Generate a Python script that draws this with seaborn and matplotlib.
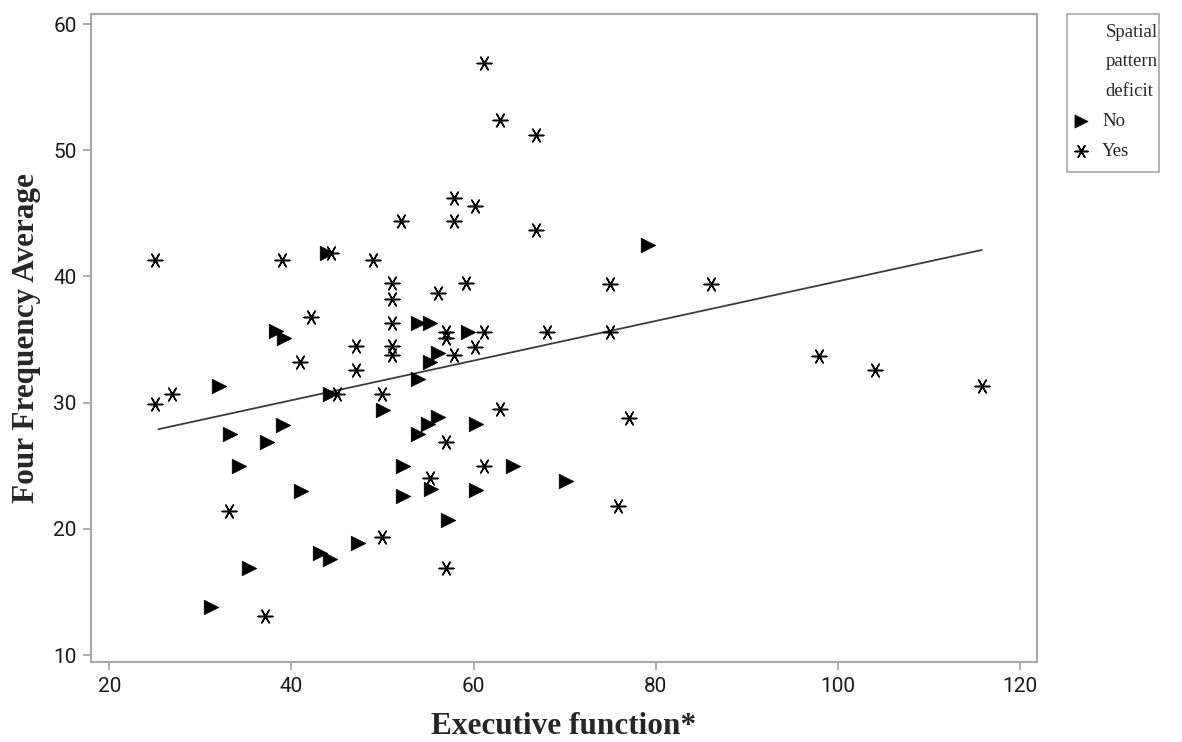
import numpy as np
import pandas as pd
import matplotlib
matplotlib.use("Agg")
import matplotlib.pyplot as plt
from matplotlib.patches import Rectangle
import seaborn as sns

# Executive function (x) and Four Frequency Average (y)
no_x = [43.9, 79.2, 53.9, 55.2, 38.3, 39.2, 59.4, 56.1, 55.2, 53.9, 32.1, 44.2,
        50.1, 56.1, 55.0, 53.9, 60.3, 33.3, 37.3, 39.1, 34.2, 41.1, 52.2, 52.2,
        55.3, 60.3, 64.3, 70.2, 57.2, 47.3, 43.1, 44.2, 35.3, 31.2]
no_y = [41.9, 42.5, 36.3, 36.3, 35.7, 35.1, 35.6, 33.9, 33.2, 31.9, 31.3, 30.7,
        29.4, 28.9, 28.3, 27.5, 28.3, 27.5, 26.9, 28.2, 25.0, 23.0, 25.0, 22.6,
        23.2, 23.1, 25.0, 23.8, 20.7, 18.9, 18.1, 17.6, 16.9, 13.8]

yes_x = [25.0, 39.0, 44.4, 49.0, 52.0, 51.1, 51.1, 51.1, 51.1, 51.1, 42.1, 47.1,
         47.1, 40.9, 26.9, 25.0, 45.0, 50.0, 33.1, 49.9, 37.1, 61.1, 62.9, 66.9,
         57.9, 60.2, 57.9, 66.9, 75.0, 59.2, 56.1, 57.0, 57.0, 61.1, 68.1, 75.0,
         60.2, 57.9, 62.9, 77.1, 57.0, 61.1, 55.2, 75.9, 57.0, 86.1, 97.9, 104.1,
         115.8]
yes_y = [41.3, 41.3, 41.9, 41.3, 44.4, 39.5, 38.2, 36.3, 34.5, 33.8, 36.8, 34.5,
         32.6, 33.2, 30.7, 29.9, 30.7, 30.7, 21.4, 19.4, 13.1, 56.9, 52.4, 51.2,
         46.2, 45.6, 44.4, 43.7, 39.4, 39.5, 38.7, 35.6, 35.1, 35.6, 35.6, 35.6,
         34.4, 33.8, 29.5, 28.8, 26.9, 25.0, 24.0, 21.8, 16.9, 39.4, 33.7, 32.6,
         31.3]

# fitted line as drawn in the original (ends)
fit_x = [25.4, 115.8]
fit_y = [27.9, 42.1]

groups = ["No", "Yes"]

df = pd.DataFrame({
    "exec": no_x + yes_x,
    "ffa": no_y + yes_y,
    "deficit": [groups[0]] * len(no_x) + [groups[1]] * len(yes_x),
})

sns.set_style("white")
plt.rcParams["font.family"] = ["Roboto", "DejaVu Sans"]

W, H = 1182, 742
fig = plt.figure(figsize=(W / 100, H / 100), dpi=100)
ax = fig.add_axes([0.0767, 0.1082, 0.8009, 0.8725])

grey = "#a6a6a6"

sns.lineplot(x=fit_x, y=fit_y, color="#3c3c3c", linewidth=1.3, ax=ax)

sns.scatterplot(data=df[df.deficit == "No"], x="exec", y="ffa", marker=">",
                color="black", s=110, edgecolor="black", linewidth=0.5,
                ax=ax, label="No", zorder=3)
sns.scatterplot(data=df[df.deficit == "Yes"], x="exec", y="ffa", marker=(6, 2, 90),
                color="black", s=110, linewidth=1.1, ax=ax, label="Yes", zorder=3)

ax.set_xlim(17.96, 121.9)
ax.set_ylim(9.48, 60.77)
ax.set_xticks([20, 40, 60, 80, 100, 120])
ax.set_yticks([10, 20, 30, 40, 50, 60])
ax.tick_params(axis="both", direction="out", length=6, width=1.3, color=grey,
               labelsize=15, labelcolor="#1a1a1a", left=True, bottom=True)
ax.tick_params(axis="x", pad=5)
ax.tick_params(axis="y", pad=4)
for sp in ax.spines.values():
    sp.set_color(grey)
    sp.set_linewidth(1.5)

serif = ["Liberation Serif", "DejaVu Serif"]
ax.set_xlabel("Executive function*", fontsize=22.5, fontweight="bold", family=serif)
ax.set_ylabel("Four Frequency Average", fontsize=22.5, fontweight="bold", family=serif)
ax.xaxis.label.set_va("center")
ax.xaxis.set_label_coords(0.5, -0.1)
ax.yaxis.label.set_va("center")
ax.yaxis.label.set_ha("center")
ax.yaxis.set_label_coords(-0.068, 0.5)

# legend content, frame drawn separately so the padding can match
leg = ax.legend(title="Spatial\npattern\ndeficit", loc="upper left",
                bbox_to_anchor=(1072 / W, 0.8, (1158 - 1072) / W, 1 - 24 / H - 0.8),
                mode="expand", bbox_transform=fig.transFigure,
                frameon=False, borderaxespad=0, borderpad=0,
                prop={"family": serif, "size": 13.5},
                title_fontproperties={"family": serif, "size": 13.5},
                alignment="right", handletextpad=0.6, handlelength=1.0,
                labelspacing=0.7, markerscale=0.9)
leg.get_title().set_multialignment("left")
leg.get_title().set_linespacing(1.95)

fig.patches.append(Rectangle((1067 / W, 1 - 172 / H), 92 / W, 158 / H,
                             transform=fig.transFigure, fill=False,
                             edgecolor=grey, linewidth=1.2))

fig.savefig("out.png", dpi=100)
